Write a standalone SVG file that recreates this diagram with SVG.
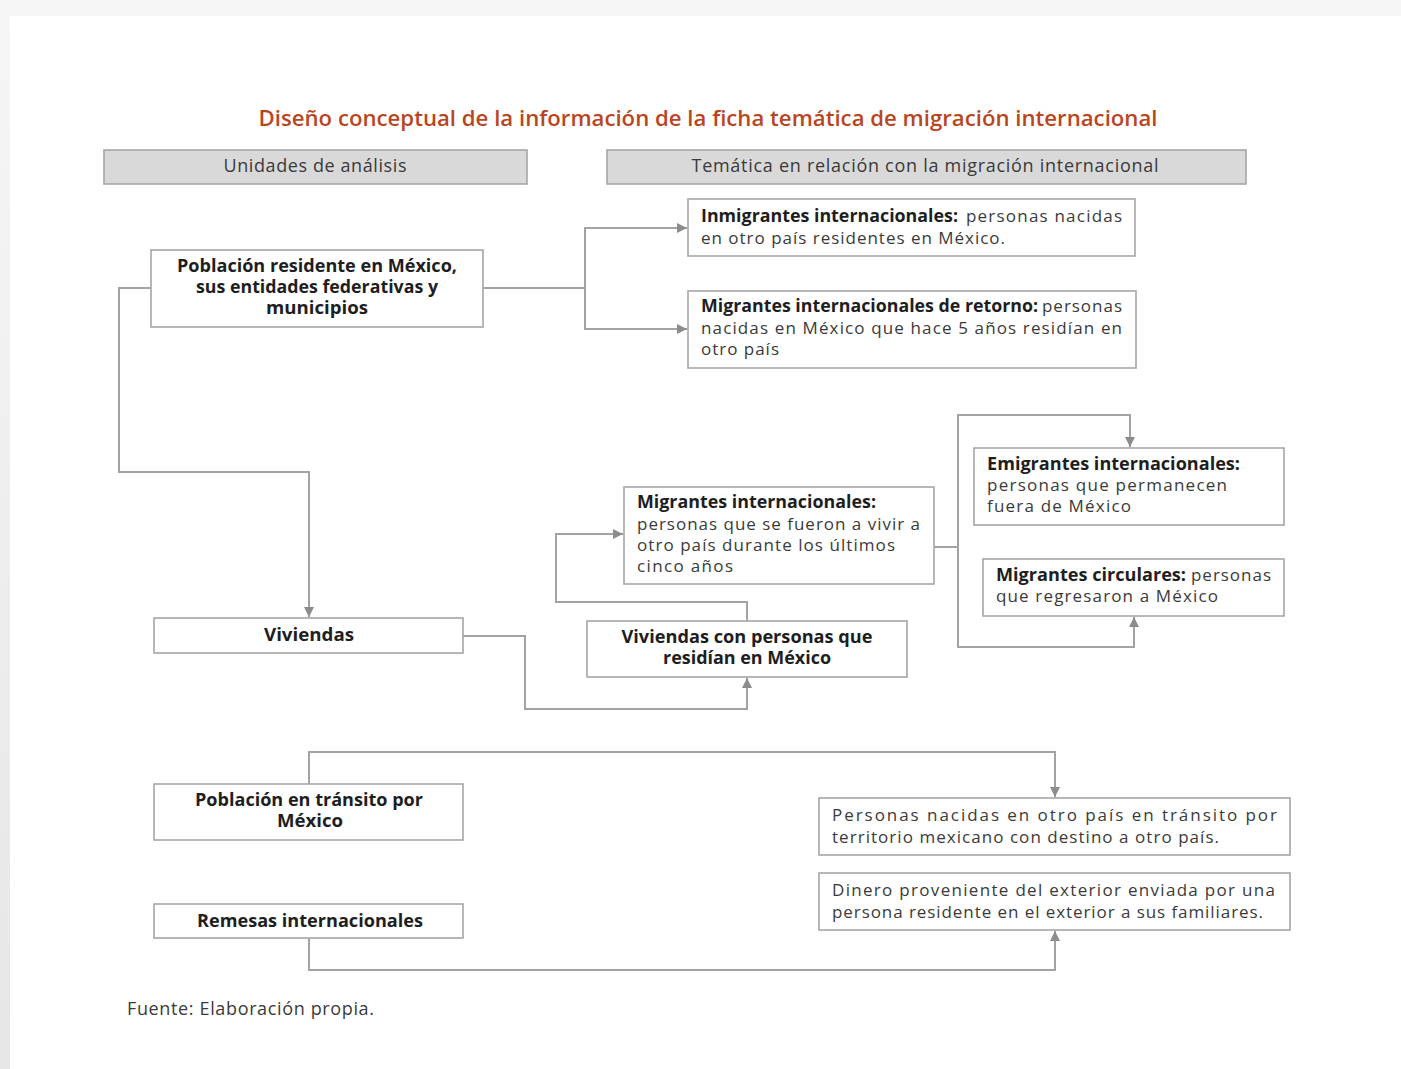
<svg xmlns="http://www.w3.org/2000/svg" width="1401" height="1069" viewBox="0 0 1401 1069">
<style>
.bx{fill:#ffffff;stroke:#a6a6a6;stroke-width:1.6}
.hd{fill:#d9d9d9;stroke:#a6a6a6;stroke-width:1.6}
.t{font-family:"Open Sans","Liberation Sans",sans-serif;font-size:17px;fill:#3a3a3a}
.h{font-family:"Open Sans","Liberation Sans",sans-serif;font-size:18px;fill:#3a3a3a}
.b{font-family:"Open Sans","Liberation Sans",sans-serif;font-size:17px;font-weight:700;fill:#1e1e1e}
.c{text-anchor:middle}
.ln{fill:none;stroke:#a3a3a3;stroke-width:2}
.ar{fill:none;stroke:#a3a3a3;stroke-width:2;marker-end:url(#ah)}
</style>
<defs>
<marker id="ah" viewBox="0 0 10 10" refX="10" refY="5" markerWidth="5" markerHeight="5" orient="auto" markerUnits="strokeWidth">
<path d="M0,0 L10,5 L0,10 z" fill="#8c8c8c"/>
</marker>
<linearGradient id="tg" x1="0" y1="0" x2="0" y2="1">
<stop offset="0" stop-color="#f6f6f6"/><stop offset="1" stop-color="#e6e6e6"/>
</linearGradient>
</defs>
<rect x="0" y="0" width="1401" height="1069" fill="url(#tg)"/>
<rect x="10" y="16" width="1391" height="1053" fill="#ffffff"/>
<text x="708" y="126" text-anchor="middle" font-family="'Open Sans','Liberation Sans',sans-serif" font-size="21" font-weight="600" fill="#b9461f" textLength="899" lengthAdjust="spacingAndGlyphs">Diseño conceptual de la información de la ficha temática de migración internacional</text>
<g id="hdr-unidades">
<rect class="hd" x="104" y="150" width="423" height="34"/>
<text class="h c" x="315" y="172" textLength="183" lengthAdjust="spacing">Unidades de análisis</text>
</g>
<g id="hdr-tematica">
<rect class="hd" x="607" y="150" width="639" height="34"/>
<text class="h c" x="925" y="172" textLength="467" lengthAdjust="spacing">Temática en relación con la migración internacional</text>
</g>
<g id="connectors">
<polyline class="ln" points="483,288 585,288"/>
<polyline class="ar" points="585,288 585,228 687,228"/>
<polyline class="ar" points="585,288 585,329 687,329"/>
<polyline class="ar" points="151,288 119,288 119,472 309,472 309,617"/>
<polyline class="ar" points="463,636 525,636 525,709 747,709 747,678"/>
<polyline class="ar" points="747,621 747,602 556,602 556,534 623,534"/>
<polyline class="ln" points="934,547 958,547"/>
<polyline class="ar" points="958,547 958,415 1130,415 1130,447"/>
<polyline class="ar" points="958,547 958,647 1134,647 1134,617"/>
<polyline class="ar" points="309,784 309,752 1055,752 1055,797"/>
<polyline class="ar" points="309,938 309,970 1055,970 1055,931"/>
</g>
<g id="poblacion-residente">
<rect class="bx" x="151" y="250" width="332" height="77"/>
<text class="b c" x="317" y="272" textLength="280" lengthAdjust="spacingAndGlyphs">Población residente en México,</text>
<text class="b c" x="317" y="293" textLength="242" lengthAdjust="spacingAndGlyphs">sus entidades federativas y</text>
<text class="b c" x="317" y="314" textLength="102" lengthAdjust="spacingAndGlyphs">municipios</text>
</g>
<g id="inmigrantes">
<rect class="bx" x="688" y="199" width="447" height="57"/>
<text class="b" x="701" y="222" textLength="257" lengthAdjust="spacingAndGlyphs">Inmigrantes internacionales:</text>
<text class="t" x="966" y="222" textLength="156" lengthAdjust="spacing">personas nacidas</text>
<text class="t" x="701" y="244" textLength="304" lengthAdjust="spacing">en otro país residentes en México.</text>
</g>
<g id="retorno">
<rect class="bx" x="688" y="291" width="448" height="77"/>
<text class="b" x="701" y="312" textLength="337" lengthAdjust="spacingAndGlyphs">Migrantes internacionales de retorno:</text>
<text class="t" x="1042" y="312" textLength="80" lengthAdjust="spacing">personas</text>
<text class="t" x="701" y="334" textLength="421" lengthAdjust="spacing">nacidas en México que hace 5 años residían en</text>
<text class="t" x="701" y="355" textLength="78" lengthAdjust="spacing">otro país</text>
</g>
<g id="viviendas">
<rect class="bx" x="154" y="618" width="309" height="35"/>
<text class="b c" x="309" y="641" textLength="90" lengthAdjust="spacingAndGlyphs">Viviendas</text>
</g>
<g id="viviendas-personas">
<rect class="bx" x="587" y="621" width="320" height="56"/>
<text class="b c" x="747" y="643" textLength="251" lengthAdjust="spacingAndGlyphs">Viviendas con personas que</text>
<text class="b c" x="747" y="664" textLength="168" lengthAdjust="spacingAndGlyphs">residían en México</text>
</g>
<g id="migrantes-internacionales">
<rect class="bx" x="624" y="487" width="310" height="97"/>
<text class="b" x="637" y="508" textLength="239" lengthAdjust="spacingAndGlyphs">Migrantes internacionales:</text>
<text class="t" x="637" y="530" textLength="283" lengthAdjust="spacing">personas que se fueron a vivir a</text>
<text class="t" x="637" y="551" textLength="258" lengthAdjust="spacing">otro país durante los últimos</text>
<text class="t" x="637" y="572" textLength="96" lengthAdjust="spacing">cinco años</text>
</g>
<g id="emigrantes">
<rect class="bx" x="974" y="448" width="310" height="77"/>
<text class="b" x="987" y="470" textLength="253" lengthAdjust="spacingAndGlyphs">Emigrantes internacionales:</text>
<text class="t" x="987" y="491" textLength="240" lengthAdjust="spacing">personas que permanecen</text>
<text class="t" x="987" y="512" textLength="144" lengthAdjust="spacing">fuera de México</text>
</g>
<g id="circulares">
<rect class="bx" x="983" y="559" width="301" height="57"/>
<text class="b" x="996" y="581" textLength="190" lengthAdjust="spacingAndGlyphs">Migrantes circulares:</text>
<text class="t" x="1191" y="581" textLength="80" lengthAdjust="spacing">personas</text>
<text class="t" x="996" y="602" textLength="222" lengthAdjust="spacing">que regresaron a México</text>
</g>
<g id="poblacion-transito">
<rect class="bx" x="154" y="784" width="309" height="56"/>
<text class="b c" x="309" y="806" textLength="228" lengthAdjust="spacingAndGlyphs">Población en tránsito por</text>
<text class="b c" x="310" y="827" textLength="66" lengthAdjust="spacingAndGlyphs">México</text>
</g>
<g id="remesas">
<rect class="bx" x="154" y="904" width="309" height="34"/>
<text class="b c" x="310" y="927" textLength="226" lengthAdjust="spacingAndGlyphs">Remesas internacionales</text>
</g>
<g id="personas-transito">
<rect class="bx" x="819" y="798" width="471" height="57"/>
<text class="t" x="832" y="821" textLength="445" lengthAdjust="spacing">Personas nacidas en otro país en tránsito por</text>
<text class="t" x="832" y="843" textLength="387" lengthAdjust="spacing">territorio mexicano con destino a otro país.</text>
</g>
<g id="dinero">
<rect class="bx" x="819" y="873" width="471" height="57"/>
<text class="t" x="832" y="896" textLength="443" lengthAdjust="spacing">Dinero proveniente del exterior enviada por una</text>
<text class="t" x="832" y="918" textLength="431" lengthAdjust="spacing">persona residente en el exterior a sus familiares.</text>
</g>
<text class="h" x="127" y="1015" textLength="247" lengthAdjust="spacing">Fuente: Elaboración propia.</text>
</svg>
